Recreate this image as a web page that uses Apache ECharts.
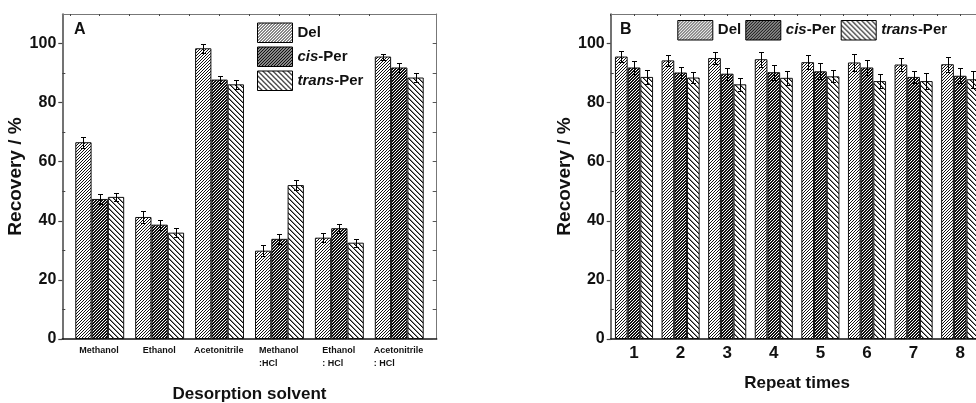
<!DOCTYPE html>
<html>
<head>
<meta charset="utf-8">
<script src="https://cdn.jsdelivr.net/npm/echarts@6/dist/echarts.min.js"></script>
<style>html,body{margin:0;padding:0;background:#fff}#c{width:976px;height:403px}</style>
</head>
<body>
<div id="c"></div>
<script>
// ---- data ----
const categoriesA = ['Methanol', 'Ethanol', 'Acetonitrile', 'Methanol\n:HCl', 'Ethanol\n: HCl', 'Acetonitrile\n: HCl'];
const delA = [66.6, 41.3, 98.4, 29.9, 34.3, 95.6];
const cisA = [47.4, 38.7, 87.8, 33.9, 37.5, 91.9];
const transA = [48.1, 36.0, 86.2, 52.1, 32.6, 88.5];
const delErrA = [1.9, 2.0, 1.5, 1.8, 1.5, 1.0];
const cisErrA = [1.7, 1.7, 1.1, 1.6, 1.5, 1.4];
const transErrA = [1.3, 1.6, 1.6, 1.6, 1.4, 1.6];

const categoriesB = ['1', '2', '3', '4', '5', '6', '7', '8'];
const delB = [95.6, 94.3, 95.1, 94.7, 93.7, 93.6, 92.9, 93.0];
const cisB = [91.9, 90.2, 89.8, 90.3, 90.6, 91.9, 88.7, 89.1];
const transB = [88.7, 88.5, 86.2, 88.4, 88.9, 87.3, 87.3, 87.9];
const delErrB = [2.0, 1.9, 2.0, 2.6, 2.3, 2.8, 2.3, 2.5];
const cisErrB = [2.3, 1.8, 2.0, 2.5, 2.7, 2.6, 2.1, 2.5];
const transErrB = [2.4, 1.9, 2.2, 2.3, 2.0, 2.4, 2.6, 2.9];

const yTickLabels = [0, 20, 40, 60, 80, 100];
const yMinorTicks = [10, 30, 50, 70, 90];
const yAllTicks = [0, 10, 20, 30, 40, 50, 60, 70, 80, 90, 100];
const seriesNames = ['Del', 'cis-Per', 'trans-Per'];
const axisTitleA = 'Desorption solvent';
const axisTitleB = 'Repeat times';
const yTitle = 'Recovery / %';

// ---- styling ----
const FONT = 'Liberation Sans, Arial, sans-serif';

function makePattern(size, draw) {
  const c = document.createElement('canvas');
  c.width = size; c.height = size;
  const ctx = c.getContext('2d');
  ctx.fillStyle = '#fff';
  ctx.fillRect(0, 0, size, size);
  draw(ctx, size);
  return { image: c, repeat: 'repeat' };
}
const patDel = makePattern(3, (ctx, s) => {
  ctx.fillStyle = '#111';
  for (let i = 0; i < s; i++) ctx.fillRect(i, s - 1 - i, 1, 1);
});
const patCis = makePattern(3, (ctx, s) => {
  ctx.fillStyle = '#111';
  ctx.fillRect(0, 0, 3, 3);
  ctx.fillStyle = '#fff';
  ctx.fillRect(0, 0, 1, 1);
  ctx.fillRect(2, 1, 1, 1);
  ctx.fillRect(1, 2, 1, 1);
});
const patTrans = makePattern(5, (ctx, s) => {
  for (let i = 0; i < s; i++) {
    ctx.fillStyle = '#111';
    ctx.fillRect(i, i, 1, 1);
    ctx.fillStyle = '#888';
    ctx.fillRect((i + 1) % s, i, 1, 1);
  }
});
const patterns = [patDel, patCis, patTrans];

// measure text for left-aligned two-line labels
const mctx = document.createElement('canvas').getContext('2d');
mctx.font = 'bold 9px ' + FONT;
const richA = {};
categoriesA.forEach((c, i) => {
  const lines = c.split('\n');
  const w = Math.max(...lines.map(l => mctx.measureText(l).width));
  richA['w' + i] = { width: Math.ceil(w) + 1, align: 'left', fontSize: 9, fontWeight: 'bold', fontFamily: FONT, color: '#111', lineHeight: 13 };
});

const gridA = { left: 62.3, top: 14, width: 374.4, height: 325, outerBoundsMode: 'none', containLabel: false };
const gridB = { left: 610.7, top: 14, width: 372.8, height: 325, outerBoundsMode: 'none', containLabel: false };
const bwA = 16.3, bwB = 12.7;

function errRender(offsetIdx, bw) {
  return function (params, api) {
    const x = api.value(0), y = api.value(1), e = api.value(2);
    const t = api.coord([x, y + e]);
    const b = api.coord([x, y - e]);
    const cx = Math.round(t[0] + (offsetIdx - 1) * bw) + 0.5;
    const ty = Math.round(t[1]) + 0.5, by = Math.round(b[1]) + 0.5;
    const h = 2.5;
    const st = { stroke: '#000', lineWidth: 1 };
    return {
      type: 'group', children: [
        { type: 'line', shape: { x1: cx, y1: ty, x2: cx, y2: by }, style: st },
        { type: 'line', shape: { x1: cx - h, y1: ty, x2: cx + h, y2: ty }, style: st },
        { type: 'line', shape: { x1: cx - h, y1: by, x2: cx + h, y2: by }, style: st }
      ]
    };
  };
}

function yAxesFor(gridIndex) {
  return [
    { // main left
      type: 'value', gridIndex, position: 'left', min: 0, max: 110,
      axisLine: { show: true, lineStyle: { color: '#444', width: 1.5 } },
      axisTick: { show: true, inside: false, length: 4, customValues: yTickLabels, lineStyle: { color: '#444', width: 1.2 } },
      axisLabel: { customValues: yTickLabels, fontSize: 16, fontWeight: 'bold', fontFamily: FONT, color: '#111', margin: 6 },
      splitLine: { show: false },
      name: yTitle, nameLocation: 'middle', nameGap: 34, nameRotate: 90,
      nameTextStyle: { fontSize: 19, fontWeight: 'bold', fontFamily: FONT, color: '#111' }
    },
    { // inner minor ticks left
      type: 'value', gridIndex, position: 'left', min: 0, max: 110,
      axisLine: { show: false },
      axisTick: { show: true, inside: true, length: 3, customValues: yMinorTicks, lineStyle: { color: '#444' } },
      axisLabel: { show: false }, splitLine: { show: false }
    },
    { // right frame
      type: 'value', gridIndex, position: 'right', min: 0, max: 110,
      axisLine: { show: true, lineStyle: { color: '#777', width: 1 } },
      axisTick: { show: true, inside: true, length: 4, customValues: yAllTicks, lineStyle: { color: '#555' } },
      axisLabel: { show: false }, splitLine: { show: false }
    }
  ];
}

const halfA = [];
for (let i = 1; i <= categoriesA.length * 2 - 1; i++) halfA.push(0.5 + (i - 1) * 0.5);
const catPosA = categoriesA.map((c, i) => i + 1);

const legendText = {
  fontSize: 15, fontWeight: 'bold', fontFamily: FONT, color: '#111',
  rich: { i: { fontSize: 15, fontWeight: 'bold', fontStyle: 'italic', fontFamily: FONT, color: '#111' } }
};
const legendFmt = n => n.replace(/^(cis|trans)/, '{i|$1}');

const option = {
  animation: false,
  backgroundColor: '#fff',
  grid: [gridA, gridB],
  xAxis: [
    { // A bottom
      type: 'value', gridIndex: 0, position: 'bottom', min: 0.375, max: 6.625,
      axisLine: { show: true, onZero: false, lineStyle: { color: '#111', width: 1.5 } },
      axisTick: { show: false },
      axisLabel: {
        customValues: catPosA, margin: 5,
        formatter: v => {
          const i = Math.round(v) - 1;
          return categoriesA[i].split('\n').map(l => '{w' + i + '|' + l + '}').join('\n');
        },
        rich: richA
      },
      splitLine: { show: false },
      name: axisTitleA, nameLocation: 'middle', nameGap: 47,
      nameTextStyle: { fontSize: 17, fontWeight: 'bold', fontFamily: FONT, color: '#111' }
    },
    { // A top
      type: 'value', gridIndex: 0, position: 'top', min: 0.375, max: 6.625,
      axisLine: { show: true, onZero: false, lineStyle: { color: '#777', width: 1 } },
      axisTick: { show: true, inside: true, length: 2, customValues: halfA, lineStyle: { color: '#444' } },
      axisLabel: { show: false }, splitLine: { show: false }
    },
    { // B bottom
      type: 'category', gridIndex: 1, position: 'bottom', data: categoriesB,
      axisLine: { show: true, onZero: false, lineStyle: { color: '#111', width: 1.5 } },
      axisTick: { show: false },
      axisLabel: { fontSize: 17, fontWeight: 'bold', fontFamily: FONT, color: '#111', margin: 6 },
      splitLine: { show: false },
      name: axisTitleB, nameLocation: 'middle', nameGap: 36,
      nameTextStyle: { fontSize: 17, fontWeight: 'bold', fontFamily: FONT, color: '#111' }
    },
    { // B top
      type: 'value', gridIndex: 1, position: 'top', min: 0.5, max: 8.5, interval: 0.5,
      axisLine: { show: true, onZero: false, lineStyle: { color: '#777', width: 1 } },
      axisTick: { show: true, inside: true, length: 2, lineStyle: { color: '#444' } },
      axisLabel: { show: false }, splitLine: { show: false }
    }
  ],
  yAxis: [...yAxesFor(0), ...yAxesFor(1)],
  legend: [
    {
      orient: 'vertical', left: 257, top: 22.5, padding: 0, itemWidth: 35, itemHeight: 19.5, itemGap: 3.5,
      icon: 'rect', data: seriesNames, selectedMode: false,
      itemStyle: { borderColor: '#000', borderWidth: 1 },
      formatter: legendFmt, textStyle: legendText
    },
    ...[677.3, 745.3, 840.7].map((l, k) => ({
      orient: 'horizontal', left: l, top: 20, padding: 0, itemWidth: 35, itemHeight: 19.5,
      icon: 'rect', data: [seriesNames[k]], selectedMode: false,
      itemStyle: { borderColor: '#000', borderWidth: 1 },
      formatter: legendFmt, textStyle: legendText
    }))
  ],
  graphic: [
    { type: 'text', left: 74, top: 21.5, style: { text: 'A', font: 'bold 16px ' + FONT, fill: '#111' } },
    { type: 'text', left: 620, top: 21.5, style: { text: 'B', font: 'bold 16px ' + FONT, fill: '#111' } }
  ],
  series: []
};

const valsA = [delA, cisA, transA], errsA = [delErrA, cisErrA, transErrA];
const valsB = [delB, cisB, transB], errsB = [delErrB, cisErrB, transErrB];

seriesNames.forEach((name, k) => {
  option.series.push({
    type: 'bar', name, xAxisIndex: 0, yAxisIndex: 0, barWidth: bwA, barGap: '0%',
    itemStyle: { color: patterns[k], borderColor: '#111', borderWidth: 1 },
    data: valsA[k].map((v, i) => [i + 1, v])
  });
});
seriesNames.forEach((name, k) => {
  option.series.push({
    type: 'bar', name, xAxisIndex: 2, yAxisIndex: 3, barWidth: bwB, barGap: '0%',
    itemStyle: { color: patterns[k], borderColor: '#111', borderWidth: 1 },
    data: valsB[k]
  });
});
seriesNames.forEach((name, k) => {
  option.series.push({
    type: 'custom', name: name + '-errA', xAxisIndex: 0, yAxisIndex: 0, z: 5,
    renderItem: errRender(k, bwA),
    data: valsA[k].map((v, i) => [i + 1, v, errsA[k][i]])
  });
  option.series.push({
    type: 'custom', name: name + '-errB', xAxisIndex: 2, yAxisIndex: 3, z: 5,
    renderItem: errRender(k, bwB),
    data: valsB[k].map((v, i) => [i, v, errsB[k][i]])
  });
});

const chart = echarts.init(document.getElementById('c'), null, { renderer: 'canvas' });
chart.setOption(option);
</script>
</body>
</html>
